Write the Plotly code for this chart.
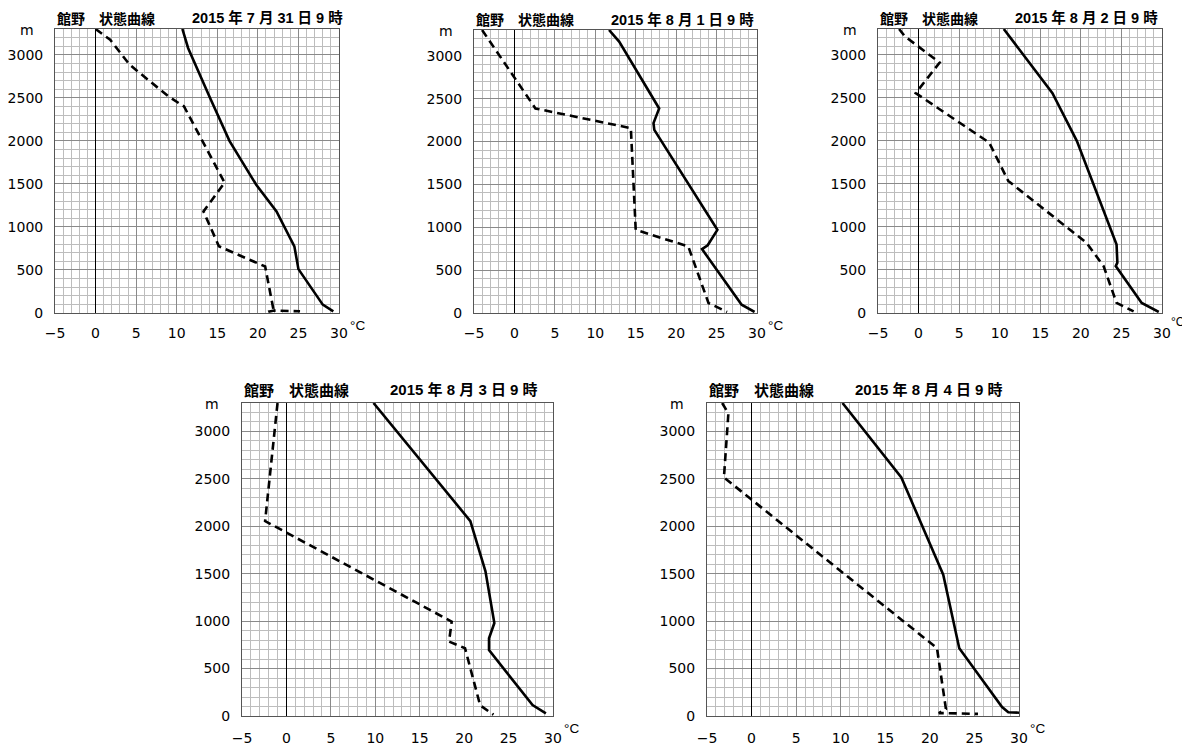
import plotly.graph_objects as go

# page body has an 8px margin, so the figure is 8px smaller and all
# reference pixel positions are shifted by OFF
OFF = 8
W, H = 1190 - OFF, 746 - OFF

# ---------------- data ----------------
titles_left = ["館野　状態曲線"] * 5
titles_date = ["2015 年 7 月 31 日 9 時", "2015 年 8 月 1 日 9 時", "2015 年 8 月 2 日 9 時",
               "2015 年 8 月 3 日 9 時", "2015 年 8 月 4 日 9 時"]

x_ticks = [-5, 0, 5, 10, 15, 20, 25, 30]
y_ticks = [0, 500, 1000, 1500, 2000, 2500, 3000]

# 2015-07-31 09h
t0731_temp = [10.7, 11.4, 14.1, 16.5, 19.8, 22.3, 24.5, 25.0, 28.0, 29.3]
t0731_h = [3300, 3080, 2500, 2000, 1490, 1180, 775, 510, 97, 20]
t0731_dew = [0.0, 1.8, 4.2, 9.0, 10.9, 15.9, 13.3, 15.2, 20.9, 21.9, 21.3, 22.0, 25.2]
t0731_dh = [3300, 3175, 2885, 2515, 2400, 1515, 1180, 775, 540, 50, 15, 28, 20]

# 2015-08-01 09h
t0801_temp = [11.7, 12.95, 17.9, 17.2, 17.3, 25.1, 23.9, 23.2, 28.1, 29.7]
t0801_h = [3300, 3165, 2385, 2215, 2135, 970, 790, 745, 97, 12]
t0801_dew = [-4.0, 2.6, 14.4, 15.0, 21.5, 24.0, 26.3]
t0801_dh = [3300, 2385, 2155, 970, 776, 116, 12]

# 2015-08-02 09h
t0802_temp = [10.5, 13.3, 16.5, 19.5, 24.4, 24.5, 24.3, 27.5, 29.6]
t0802_h = [3300, 2950, 2555, 2000, 795, 585, 545, 117, 12]
t0802_dew = [-2.4, -1.7, 2.6, -0.35, 8.7, 11.05, 20.7, 22.8, 24.4, 26.5]
t0802_dh = [3300, 3215, 2910, 2555, 1980, 1535, 815, 545, 117, 19]

# 2015-08-03 09h
t0803_temp = [9.8, 20.7, 22.4, 23.4, 22.8, 22.8, 27.7, 29.2]
t0803_h = [3300, 2055, 1525, 980, 820, 695, 115, 28]
t0803_dew = [-1.0, -2.4, 18.6, 18.3, 20.1, 21.8, 23.3]
t0803_dh = [3300, 2055, 995, 785, 715, 113, 14]

# 2015-08-04 09h
t0804_temp = [10.2, 16.8, 21.5, 23.3, 28.1, 28.8, 30.0]
t0804_h = [3300, 2515, 1490, 715, 95, 40, 35]
t0804_dew = [-3.3, -2.6, -3.1, 20.8, 21.8, 21.0, 21.9, 25.4]
t0804_dh = [3300, 3190, 2515, 715, 75, 30, 30, 22]

temps = [(t0731_temp, t0731_h), (t0801_temp, t0801_h), (t0802_temp, t0802_h),
         (t0803_temp, t0803_h), (t0804_temp, t0804_h)]
dews = [(t0731_dew, t0731_dh), (t0801_dew, t0801_dh), (t0802_dew, t0802_dh),
        (t0803_dew, t0803_dh), (t0804_dew, t0804_dh)]

# ---------------- layout (reference pixel boxes: left, right, top, bottom) ----------------
boxes = [(55, 339, 29, 313), (474, 757, 30, 313), (878, 1162, 29, 313),
         (242, 553, 403, 716), (707, 1019, 403, 716)]


def fx(px):
    return (px - OFF) / W


def fy(py):
    return 1 - (py - OFF) / H


fig = go.Figure()
layout = dict(width=W, height=H, margin=dict(l=0, r=0, t=0, b=0, autoexpand=False),
              paper_bgcolor="white", plot_bgcolor="white", showlegend=False)
annotations = []

tick_font = dict(family="DejaVu Sans, Liberation Sans, sans-serif", size=14, color="black")

for i, (l, r, t, b) in enumerate(boxes):
    n = "" if i == 0 else str(i + 1)
    xa, ya = "x" + n, "y" + n
    big = i >= 3
    layout["xaxis" + n] = dict(
        domain=[fx(l), fx(r)], anchor=ya, range=[-5, 30], automargin=False,
        tickvals=x_ticks, ticktext=[str(v).replace("-", "−") for v in x_ticks],
        showgrid=True, gridcolor="#8a8a8a", gridwidth=1,
        minor=dict(dtick=1, tick0=0, showgrid=True, gridcolor="#bdbdbd", gridwidth=1),
        zeroline=True, zerolinecolor="black", zerolinewidth=1,
        showline=True, mirror=True, linecolor="#555555", linewidth=1,
        ticks="", tickfont=tick_font, ticklabelstandoff=9 if big else 7,
        fixedrange=True)
    layout["yaxis" + n] = dict(
        domain=[fy(b), fy(t)], anchor=xa, range=[0, 3300], automargin=False,
        tickvals=y_ticks,
        showgrid=True, gridcolor="#8a8a8a", gridwidth=1,
        minor=dict(dtick=100, tick0=0, showgrid=True, gridcolor="#bdbdbd", gridwidth=1),
        zeroline=False,
        showline=True, mirror=True, linecolor="#555555", linewidth=1,
        ticks="outside", ticklen=8, tickcolor="rgba(0,0,0,0)", tickfont=tick_font,
        fixedrange=True)

    tx, th = temps[i]
    dx, dh = dews[i]
    fig.add_trace(go.Scatter(x=tx, y=th, mode="lines", xaxis=xa, yaxis=ya,
                             line=dict(color="black", width=2.6), hoverinfo="skip"))
    fig.add_trace(go.Scatter(x=dx, y=dh, mode="lines", xaxis=xa, yaxis=ya,
                             line=dict(color="black", width=2.6, dash="8px,5px"), hoverinfo="skip"))

    tsize = 15 if big else 14
    ty = t - (14 if big else 11)
    annotations.append(dict(text=titles_left[i], xref="paper", yref="paper",
                            x=fx(l), y=fy(ty), xanchor="left", yanchor="middle",
                            showarrow=False,
                            font=dict(family="Noto Sans CJK JP", size=tsize, color="black", weight="bold")))
    annotations.append(dict(text=titles_date[i], xref="paper", yref="paper",
                            x=fx(l + (146 if big else 135)), y=fy(ty),
                            xanchor="left", yanchor="middle", showarrow=False,
                            font=dict(family="Liberation Sans, Noto Sans CJK JP", size=15 if big else 14.5,
                                      color="black", weight="bold")))
    annotations.append(dict(text="m", xref="paper", yref="paper",
                            x=fx(l - (30 if big else 28)), y=fy(t + 1),
                            xanchor="center", yanchor="middle", showarrow=False,
                            font=dict(family="DejaVu Sans", size=14, color="black")))
    edge = r + 8 > 1160
    annotations.append(dict(text="°C", xref="paper", yref="paper",
                            x=fx(1169 if edge else r + 9), y=fy(b + (9 if edge else 12)),
                            xanchor="left", yanchor="middle", showarrow=False,
                            font=dict(family="Liberation Sans", size=12 if edge else 13.5,
                                      color="black")))

layout["annotations"] = annotations
fig.update_layout(**layout)
fig.write_html("out.html")
